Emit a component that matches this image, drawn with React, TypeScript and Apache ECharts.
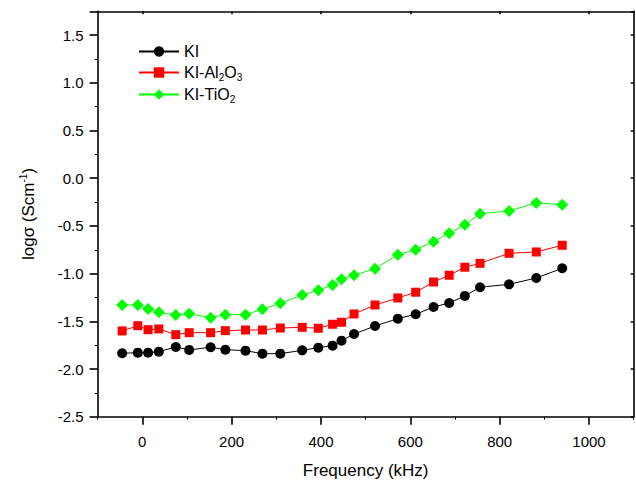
import React, { useEffect, useRef } from "react";
import * as echarts from "echarts";

const frequency = [-45, -10, 13, 37, 75, 105, 153, 186, 231, 269, 309, 358, 394, 426, 446, 474, 521, 572, 612, 652, 687, 722, 756, 821, 882, 940];
const kiValues = [-1.835, -1.829, -1.829, -1.818, -1.769, -1.80, -1.772, -1.797, -1.808, -1.839, -1.839, -1.804, -1.776, -1.755, -1.703, -1.633, -1.549, -1.472, -1.426, -1.350, -1.308, -1.234, -1.143, -1.112, -1.046, -0.944];
const kiAl2O3Values = [-1.601, -1.546, -1.588, -1.580, -1.640, -1.619, -1.619, -1.598, -1.591, -1.591, -1.570, -1.563, -1.573, -1.531, -1.510, -1.423, -1.329, -1.255, -1.195, -1.088, -1.017, -0.933, -0.892, -0.787, -0.773, -0.703];
const kiTiO2Values = [-1.329, -1.329, -1.371, -1.405, -1.434, -1.420, -1.462, -1.430, -1.430, -1.374, -1.311, -1.224, -1.175, -1.119, -1.059, -1.017, -0.948, -0.801, -0.749, -0.665, -0.577, -0.487, -0.372, -0.343, -0.259, -0.277];

const xMajorTicks = [0, 200, 400, 600, 800, 1000];
const xMinorTicks = [-100, 100, 300, 500, 700, 900, 1100];

const seriesNames = ["KI", "KI-Al2O3", "KI-TiO2"];
const legendLabels: Record<string, string> = {
  "KI": "{a|KI}",
  "KI-Al2O3": "{a|KI-Al}{s|2}{a|O}{s|3}",
  "KI-TiO2": "{a|KI-TiO}{s|2}",
};

const FONT = "Liberation Sans, Arial, sans-serif";

function pairs(ys: number[]) {
  return frequency.map((x, i) => [x, ys[i]]);
}

export default function App() {
  const ref = useRef<HTMLDivElement>(null);
  useEffect(() => {
    if (!ref.current) return;
    const chart = echarts.init(ref.current, undefined, { renderer: "svg" });
    const axisLine = { show: true, onZero: false, lineStyle: { color: "#000", width: 1.6 } };
    const xBase = { type: "value", min: -100, max: 1100, interval: 100, splitLine: { show: false } };
    const yBase = { type: "value", min: -2.5, max: 1.75, interval: 0.5, splitLine: { show: false } };
    chart.setOption({
      animation: false,
      backgroundColor: "#fff",
      grid: { left: 97.6, right: 2.3, top: 11.3, bottom: 67.3, containLabel: false },
      legend: {
        orient: "vertical",
        left: 133,
        top: 38,
        itemWidth: 40,
        itemHeight: 13,
        itemGap: 3,
        data: seriesNames,
        formatter: (n: string) => legendLabels[n],
        textStyle: {
          fontFamily: FONT,
          color: "#000",
          lineHeight: 17,
          rich: {
            a: { fontSize: 16, fontFamily: FONT, color: "#000", lineHeight: 17 },
            s: { fontSize: 10, fontFamily: FONT, color: "#000", padding: [9, 0, 0, 0], lineHeight: 10 },
          },
        },
      },
      xAxis: [
        {
          ...xBase,
          position: "bottom",
          name: "Frequency (kHz)",
          nameLocation: "middle",
          nameGap: 45,
          nameTextStyle: { fontFamily: FONT, fontSize: 17, color: "#000" },
          axisLine,
          axisTick: { show: true, inside: false, length: 8, customValues: xMajorTicks, lineStyle: { color: "#000", width: 1.6 } },
          axisLabel: {
            fontFamily: FONT, fontSize: 15, color: "#000", margin: 17, customValues: xMajorTicks,
            formatter: (v: number) => String(v),
          },
        },
        {
          ...xBase,
          position: "bottom",
          axisLine: { show: false, onZero: false },
          axisTick: { show: true, inside: false, length: 3, customValues: xMinorTicks, lineStyle: { color: "#000", width: 1 } },
          axisLabel: { show: false },
        },
        {
          ...xBase,
          position: "top",
          axisLine,
          axisTick: { show: true, inside: true, length: 3, customValues: xMajorTicks, lineStyle: { color: "#000", width: 1.5 } },
          axisLabel: { show: false },
        },
      ],
      yAxis: [
        {
          ...yBase,
          position: "left",
          name: "{a|logσ (Scm}{b|-1}{a|)}",
          nameLocation: "middle",
          nameGap: 60,
          nameTextStyle: {
            fontFamily: FONT, fontSize: 17, color: "#000",
            rich: {
              a: { fontFamily: FONT, fontSize: 17, color: "#000", lineHeight: 19 },
              b: { fontFamily: FONT, fontSize: 10, color: "#000", padding: [0, 0, 9, 0], lineHeight: 10 },
            },
          },
          axisLine,
          axisTick: { show: true, inside: false, length: 8, lineStyle: { color: "#000", width: 1.6 } },
          minorTick: { show: true, splitNumber: 2, length: 3, lineStyle: { color: "#000", width: 1 } },
          axisLabel: {
            fontFamily: FONT, fontSize: 15, color: "#000", margin: 14,
            formatter: (v: number) => (v > 1.5 ? "" : v.toFixed(1)),
          },
        },
        {
          ...yBase,
          position: "right",
          axisLine,
          axisTick: { show: true, inside: true, length: 3, lineStyle: { color: "#000", width: 1.5 } },
          axisLabel: { show: false },
        },
      ],
      series: [
        {
          name: "KI",
          type: "line",
          data: pairs(kiValues),
          symbol: "circle",
          symbolSize: 10,
          itemStyle: { color: "#000" },
          lineStyle: { color: "#000", width: 1 },
        },
        {
          name: "KI-Al2O3",
          type: "line",
          data: pairs(kiAl2O3Values),
          symbol: "rect",
          symbolSize: 9,
          itemStyle: { color: "#ff0000" },
          lineStyle: { color: "#ff0000", width: 1 },
        },
        {
          name: "KI-TiO2",
          type: "line",
          data: pairs(kiTiO2Values),
          symbol: "diamond",
          symbolSize: 12,
          itemStyle: { color: "#00ff00" },
          lineStyle: { color: "#00ff00", width: 1 },
        },
      ],
    });
    return () => chart.dispose();
  }, []);
  return <div ref={ref} style={{ width: 636, height: 484, position: "absolute", left: 0, top: 0 }} />;
}
